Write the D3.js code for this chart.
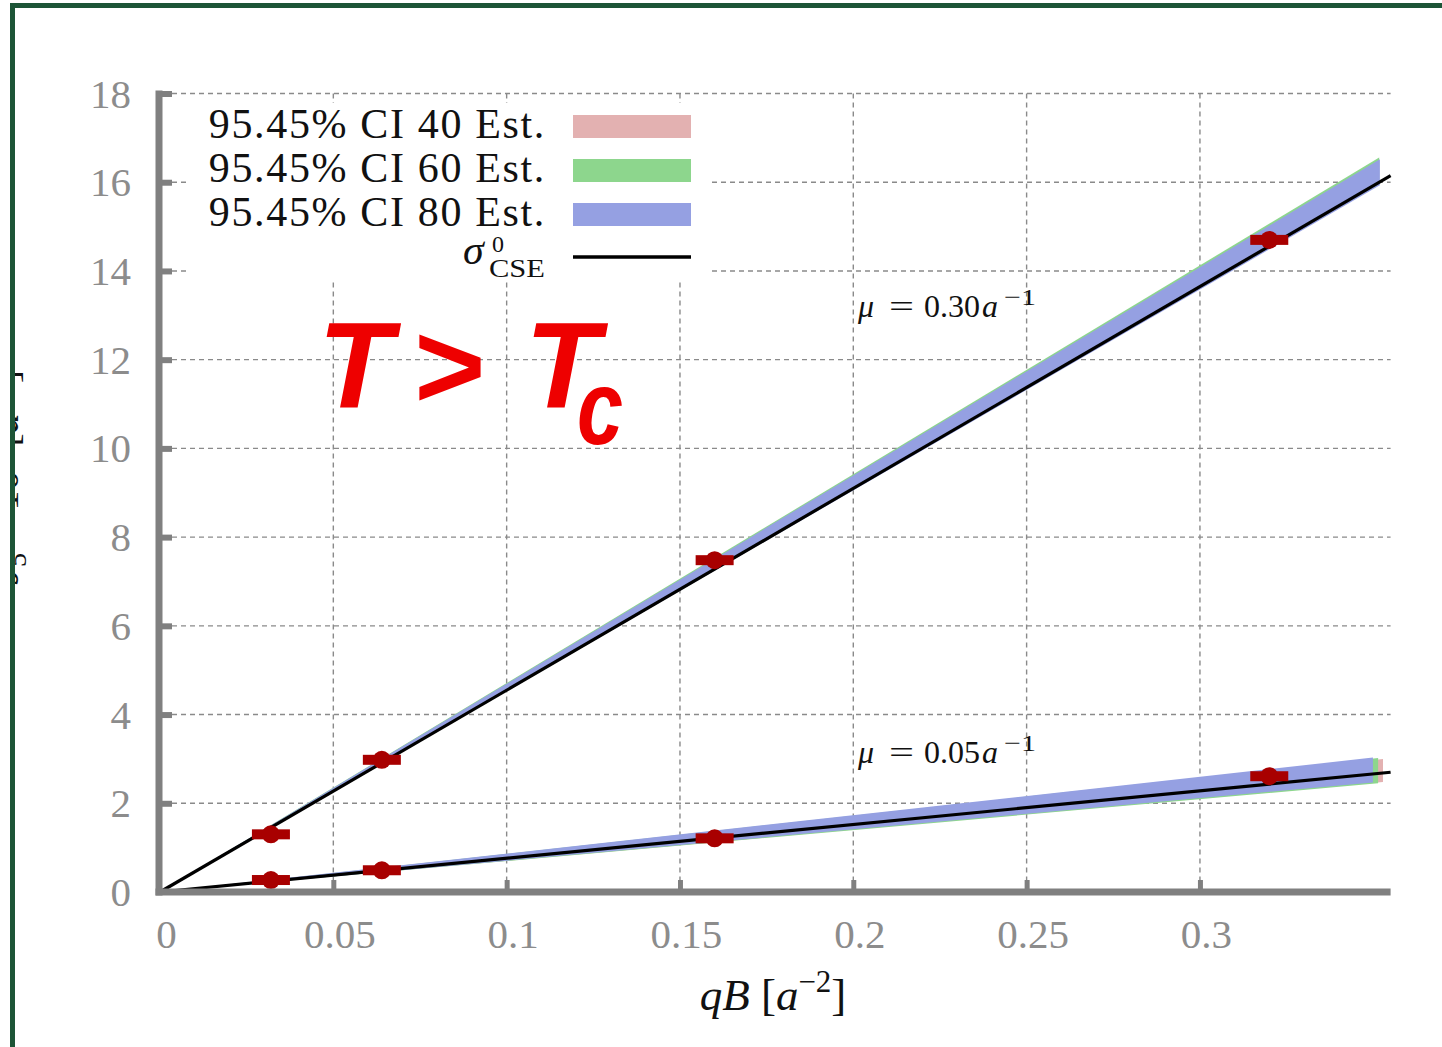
<!DOCTYPE html>
<html>
<head>
<meta charset="utf-8">
<script src="https://cdn.jsdelivr.net/npm/d3@7"></script>
<style>
  body { margin: 0; background: #fff; }
  svg { display: block; }
</style>
</head>
<body>
<svg id="chart" width="1442" height="1047"></svg>
<script>
// Magnetic field strengths (lattice units) and measured estimates
const qB = [0.032, 0.064, 0.16, 0.32];
const est030 = [1.30, 2.98, 7.48, 14.70];
const est005 = [0.27, 0.49, 1.21, 2.61];

// Analytic CSE reference lines (endpoints)
const lineQB = [0, 0.355];
const cse030 = [0, 16.15];
const cse005 = [0, 2.70];

// 95.45% confidence bands for 40 / 60 / 80 estimators (values at band end)
const bandNames = ["95.45% CI 40 Est.", "95.45% CI 60 Est.", "95.45% CI 80 Est."];
const bandColors = ["#e3b1b1", "#8dd68d", "#95a0e2"];
const bandEnd030 = [0.3515, 0.3517, 0.3519];
const band030Lo = [15.99, 15.97, 15.93];
const band030Hi = [16.45, 16.56, 16.52];
const bandEnd005 = [0.3528, 0.3514, 0.3499];
const band005Lo = [2.48, 2.45, 2.47];
const band005Hi = [3.00, 3.02, 3.03];

// Axis ticks
const xTicks = [0, 0.05, 0.1, 0.15, 0.2, 0.25, 0.3];
const xTickLabels = ["0", "0.05", "0.1", "0.15", "0.2", "0.25", "0.3"];
const yTicks = [0, 2, 4, 6, 8, 10, 12, 14, 16, 18];
const yTickLabels = ["0", "2", "4", "6", "8", "10", "12", "14", "16", "18"];

const svg = d3.select("#chart");
const serif = "'Liberation Serif', 'Times New Roman', serif";
const axisGray = "#808080";
const labelGray = "#8c8c8c";
const pointRed = "#a80000";

const x = d3.scaleLinear().domain([0, 0.355]).range([160, 1390.6]);
const y = d3.scaleLinear().domain([0, 18]).range([892, 93.5]);

// frame
svg.append("line").attr("x1", 12.5).attr("x2", 12.5).attr("y1", 3).attr("y2", 1047)
  .attr("stroke", "#1d5537").attr("stroke-width", 5);
svg.append("line").attr("x1", 10).attr("x2", 1442).attr("y1", 5.5).attr("y2", 5.5)
  .attr("stroke", "#1d5537").attr("stroke-width", 5);

// y-axis title (cut off by the frame on the left)
svg.append("clipPath").attr("id", "yclip")
  .append("rect").attr("x", 15).attr("y", 0).attr("width", 60).attr("height", 1047);
const yTitle = svg.append("g").attr("clip-path", "url(#yclip)")
  .append("text")
  .attr("transform", "translate(18,370) rotate(-90)")
  .attr("text-anchor", "end")
  .attr("font-family", serif).attr("font-size", 40).attr("fill", "#111");
yTitle.append("tspan").attr("font-style", "italic").text("J");
yTitle.append("tspan").attr("font-size", 28).attr("dy", 8).text("5");
yTitle.append("tspan").attr("dy", -8).text(" × 10");
yTitle.append("tspan").attr("font-size", 28).attr("dy", -14).text("3");
yTitle.append("tspan").attr("dy", 14).text(" [");
yTitle.append("tspan").attr("font-style", "italic").text("a");
yTitle.append("tspan").attr("font-size", 28).attr("dy", -14).text("−3");
yTitle.append("tspan").attr("dy", 14).text("]");

// grid
const grid = svg.append("g").attr("stroke", "#8a8a8a").attr("stroke-width", 1.4)
  .attr("stroke-dasharray", "5,4").attr("fill", "none");
grid.selectAll("line.h").data(yTicks.filter(d => d > 0)).join("line").attr("class", "h")
  .attr("x1", 172).attr("x2", x(0.355)).attr("y1", d => y(d)).attr("y2", d => y(d));
grid.selectAll("line.v").data(xTicks.filter(d => d > 0)).join("line").attr("class", "v")
  .attr("x1", d => x(d)).attr("x2", d => x(d)).attr("y1", y(18)).attr("y2", 880);

// legend background
svg.append("rect").attr("x", 190).attr("y", 103).attr("width", 522).attr("height", 179)
  .attr("fill", "#fff");

// confidence bands
const area = d3.area().x(d => x(d.q)).y0(d => y(d.lo)).y1(d => y(d.hi));
const bands = svg.append("g");
bandNames.forEach((name, i) => {
  const top = [{ q: 0, lo: 0, hi: 0 }, { q: bandEnd030[i], lo: band030Lo[i], hi: band030Hi[i] }];
  const bot = [{ q: 0, lo: 0, hi: 0 }, { q: bandEnd005[i], lo: band005Lo[i], hi: band005Hi[i] }];
  bands.append("path").datum(top).attr("d", area).attr("fill", bandColors[i]);
  bands.append("path").datum(bot).attr("d", area).attr("fill", bandColors[i]);
});

// analytic lines
const line = d3.line().x(d => x(d[0])).y(d => y(d[1]));
[cse030, cse005].forEach(vals => {
  svg.append("path").datum(lineQB.map((q, i) => [q, vals[i]])).attr("d", line)
    .attr("fill", "none").attr("stroke", "#000").attr("stroke-width", 3.2);
});

// measured points
const pts = svg.append("g").attr("fill", pointRed);
[est030, est005].forEach(vals => {
  qB.forEach((q, i) => {
    pts.append("rect").attr("x", x(q) - 19).attr("y", y(vals[i]) - 5)
      .attr("width", 38).attr("height", 10);
    pts.append("circle").attr("cx", x(q)).attr("cy", y(vals[i])).attr("r", 9);
  });
});

// axes
const axes = svg.append("g");
axes.append("line").attr("x1", 159).attr("x2", 159).attr("y1", y(18) - 3).attr("y2", 895.5)
  .attr("stroke", axisGray).attr("stroke-width", 7);
axes.append("line").attr("x1", 155.5).attr("x2", x(0.355)).attr("y1", 892).attr("y2", 892)
  .attr("stroke", axisGray).attr("stroke-width", 7);

const xAxis = d3.axisBottom(x).tickValues(xTicks)
  .tickFormat((d, i) => xTickLabels[i]).tickSizeInner(-12).tickSizeOuter(0).tickPadding(0);
const gx = svg.append("g").attr("transform", "translate(0,892)").call(xAxis);
gx.select(".domain").remove();
gx.selectAll(".tick line").attr("stroke", axisGray).attr("stroke-width", 5)
  .filter(d => d === 0).remove();
gx.selectAll(".tick text").attr("fill", labelGray).attr("font-family", serif)
  .attr("font-size", 41).attr("dx", 6).attr("y", 56).attr("dy", 0);

const yAxis = d3.axisLeft(y).tickValues(yTicks)
  .tickFormat((d, i) => yTickLabels[i]).tickSizeInner(-13).tickSizeOuter(0).tickPadding(0);
const gy = svg.append("g").attr("transform", "translate(159,0)").call(yAxis);
gy.select(".domain").remove();
gy.selectAll(".tick line").attr("stroke", axisGray).attr("stroke-width", 6)
  .filter(d => d === 0).remove();
gy.selectAll(".tick text").attr("fill", labelGray).attr("font-family", serif)
  .attr("font-size", 41).attr("x", -28).attr("dy", "0.33em");

// x-axis title
const xTitle = svg.append("text").attr("x", 773).attr("y", 1010).attr("text-anchor", "middle")
  .attr("font-family", serif).attr("font-size", 45).attr("fill", "#111");
xTitle.append("tspan").attr("font-style", "italic").text("qB");
xTitle.append("tspan").text(" [");
xTitle.append("tspan").attr("font-style", "italic").text("a");
xTitle.append("tspan").attr("font-size", 31).attr("dy", -18).text("−2");
xTitle.append("tspan").attr("dy", 18).text("]");

// legend
const legend = svg.append("g").attr("font-family", serif).attr("fill", "#111");
const rowY = [138, 182, 226];
bandNames.forEach((name, i) => {
  legend.append("text").attr("x", 546).attr("y", rowY[i]).attr("text-anchor", "end")
    .attr("font-size", 42).attr("letter-spacing", 1.65).text(name);
  legend.append("rect").attr("x", 573).attr("y", rowY[i] - 23).attr("width", 118).attr("height", 23)
    .attr("fill", bandColors[i]);
});
legend.append("line").attr("x1", 573).attr("x2", 691).attr("y1", 257).attr("y2", 257)
  .attr("stroke", "#000").attr("stroke-width", 3.5);
legend.append("text").attr("x", 463).attr("y", 264).attr("font-size", 42)
  .attr("font-style", "italic").text("σ");
legend.append("text").attr("x", 492).attr("y", 252).attr("font-size", 24).text("0");
legend.append("text").attr("x", 489).attr("y", 277).attr("font-size", 26)
  .attr("textLength", 56).attr("lengthAdjust", "spacingAndGlyphs").text("CSE");

// chemical potential annotations
const muLabels = ["0.30", "0.05"];
const muY = [317, 763];
muLabels.forEach((m, i) => {
  const g = svg.append("g").attr("font-family", serif).attr("font-size", 32).attr("fill", "#111");
  g.append("text").attr("x", 858).attr("y", muY[i]).attr("font-style", "italic").text("μ");
  g.append("text").attr("x", 889).attr("y", muY[i]).attr("textLength", 25)
    .attr("lengthAdjust", "spacingAndGlyphs").text("=");
  g.append("text").attr("x", 924).attr("y", muY[i]).text(m);
  g.append("text").attr("x", 982).attr("y", muY[i]).attr("font-style", "italic").text("a");
  g.append("text").attr("x", 1004).attr("y", muY[i] - 12).attr("font-size", 24)
    .attr("textLength", 32).attr("lengthAdjust", "spacingAndGlyphs").text("−1");
});

// temperature regime label
const big = svg.append("g").attr("font-family", "'Liberation Sans', Arial, sans-serif")
  .attr("font-weight", "bold").attr("font-style", "italic").attr("fill", "#ee0000");
big.append("text").attr("x", 318).attr("y", 408).attr("font-size", 122).text("T");
big.append("text").attr("x", 412).attr("y", 408).attr("font-size", 122).text(">");
big.append("text").attr("x", 525).attr("y", 408).attr("font-size", 122).text("T");
big.append("text").attr("transform", "translate(577,444) scale(0.78,1)")
  .attr("font-size", 106).text("c");
</script>
</body>
</html>
